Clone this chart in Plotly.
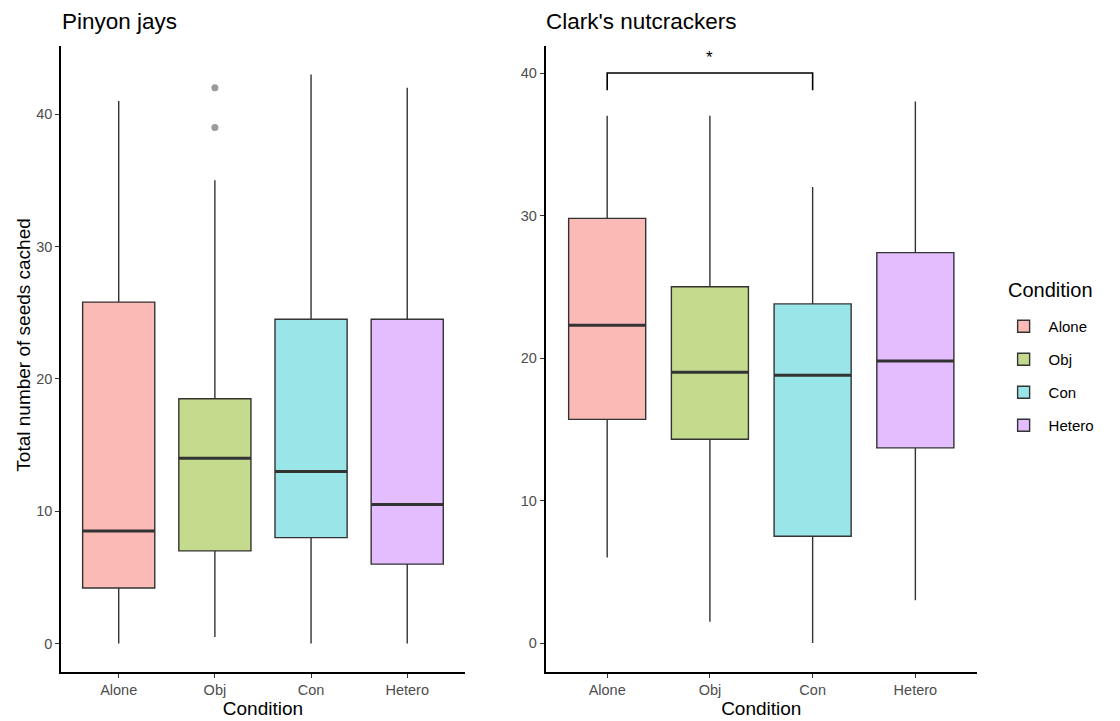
import plotly.graph_objects as go

categories = ["Alone", "Obj", "Con", "Hetero"]
colors = ["rgba(248,118,109,0.5)", "rgba(124,174,0,0.45)", "rgba(0,191,196,0.4)", "rgba(199,124,255,0.5)"]

# Pinyon jays
pj_low = [0, 0.5, 0, 0]
pj_q1 = [4.2, 7.0, 8.0, 6.0]
pj_med = [8.5, 14.0, 13.0, 10.5]
pj_q3 = [25.8, 18.5, 24.5, 24.5]
pj_high = [41, 35, 43, 42]
pj_out_cat = ["Obj", "Obj"]
pj_out_val = [39, 42]

# Clark's nutcrackers
cn_low = [6.0, 1.5, 0, 3.0]
cn_q1 = [15.7, 14.3, 7.5, 13.7]
cn_med = [22.3, 19.0, 18.8, 19.8]
cn_q3 = [29.8, 25.0, 23.8, 27.4]
cn_high = [37, 37, 32, 38]

sig_pair = ("Alone", "Con")
sig_y = 40
sig_drop = 38.8
sig_label = "*"

BOXW = 0.75
LINE = "#333333"
FONT = "Liberation Sans, Arial, sans-serif"

# The page keeps its default 8px body margin; size the figure to fit inside it.
OFF = 8
W, H = 1120 - 2 * OFF, 721 - OFF
# plot area in screen pixels: x 61..993, y 46..672
L, T = 61 - OFF, 46 - OFF
R, B = W - (993 - OFF), H - (672 - OFF)
PW, PH = W - L - R, H - T - B

def px(xs):
    return (xs - OFF - L) / PW

def py(ys):
    return (H - B - (ys - OFF)) / PH

fig = go.Figure()

def add_panel(xa, ya, low, q1, med, q3, high, showleg):
    for i, c in enumerate(categories):
        fig.add_trace(go.Box(
            x=[i], q1=[q1[i]], median=[med[i]], q3=[q3[i]],
            lowerfence=[low[i]], upperfence=[high[i]],
            width=BOXW, whiskerwidth=0,
            fillcolor=colors[i], line=dict(color=LINE, width=1.4),
            name=c, legendgroup=c, showlegend=showleg,
            boxpoints=False, hoverinfo="skip",
            xaxis=xa, yaxis=ya,
        ))
        fig.add_trace(go.Scatter(
            x=[i - BOXW / 2, i + BOXW / 2], y=[med[i], med[i]],
            mode="lines", line=dict(color=LINE, width=3),
            showlegend=False, hoverinfo="skip", xaxis=xa, yaxis=ya,
        ))

add_panel("x", "y", pj_low, pj_q1, pj_med, pj_q3, pj_high, True)
add_panel("x2", "y2", cn_low, cn_q1, cn_med, cn_q3, cn_high, False)

fig.add_trace(go.Scatter(
    x=[categories.index(c) for c in pj_out_cat], y=pj_out_val,
    mode="markers", marker=dict(color="rgba(120,120,120,0.75)", size=7),
    showlegend=False, hoverinfo="skip", xaxis="x", yaxis="y",
))

a, b = categories.index(sig_pair[0]), categories.index(sig_pair[1])
fig.add_trace(go.Scatter(
    x=[a, a, b, b], y=[sig_drop, sig_y, sig_y, sig_drop],
    mode="lines", line=dict(color="black", width=1.6),
    showlegend=False, hoverinfo="skip", xaxis="x2", yaxis="y2",
))
fig.add_annotation(x=(a + b) / 2, y=sig_y + 1.1, xref="x2", yref="y2",
                   text=sig_label, showarrow=False, yanchor="middle",
                   font=dict(size=17, color="black", family=FONT))

axis_common = dict(
    showline=True, linecolor="black", linewidth=1.5, showgrid=False, zeroline=False,
    ticks="outside", ticklen=4, tickcolor="#333333", tickwidth=1.2, automargin=False,
    tickfont=dict(size=14.5, color="#4D4D4D", family=FONT),
)
xcommon = dict(axis_common, tickmode="array", tickvals=list(range(4)), ticktext=categories,
               range=[-0.6, 3.6],
               title=dict(text="Condition", font=dict(size=19, color="black", family=FONT), standoff=2))

fig.update_layout(
    width=W, height=H, autosize=False,
    paper_bgcolor="white", plot_bgcolor="white",
    margin=dict(l=L, r=R, t=T, b=B),
    font=dict(family=FONT),
    xaxis=dict(xcommon, domain=[0, px(472)], anchor="y"),
    yaxis=dict(axis_common, range=[-2.15, 45.15], tickvals=[0, 10, 20, 30, 40], anchor="x"),
    xaxis2=dict(xcommon, domain=[px(554), 1], anchor="y2"),
    yaxis2=dict(axis_common, range=[-2.03, 41.9], tickvals=[0, 10, 20, 30, 40], anchor="x2"),
    legend=dict(font=dict(size=15, color="black", family=FONT),
                x=px(1015), xanchor="left", y=py(310), yanchor="top",
                tracegroupgap=10.5, itemwidth=40, bgcolor="rgba(0,0,0,0)"),
    showlegend=True,
)

title_font = dict(size=22.5, color="black", family=FONT)
fig.add_annotation(text="Pinyon jays", x=px(60), y=py(22), xref="paper", yref="paper",
                   showarrow=False, xanchor="left", yanchor="middle", font=title_font)
fig.add_annotation(text="Clark's nutcrackers", x=px(552), y=py(22), xref="paper", yref="paper",
                   showarrow=False, xanchor="left", yanchor="middle", font=title_font)
fig.add_annotation(text="Total number of seeds cached", x=px(22), y=py(345),
                   xref="paper", yref="paper", showarrow=False, textangle=-90,
                   xanchor="center", yanchor="middle",
                   font=dict(size=19, color="black", family=FONT))
fig.add_annotation(text="Condition", x=px(1022), y=py(290), xref="paper", yref="paper",
                   showarrow=False, xanchor="left", yanchor="middle",
                   font=dict(size=20, color="black", family=FONT))

fig.write_html("out.html", config={"responsive": False, "displayModeBar": False})
